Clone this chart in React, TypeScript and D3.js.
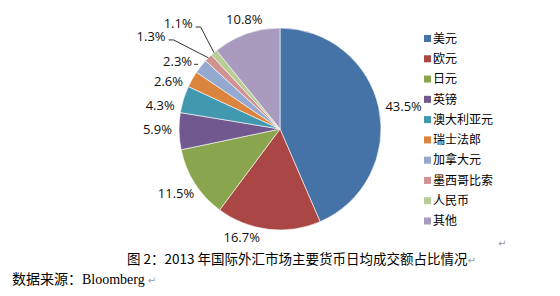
import React from "react";
import * as d3 from "d3";

const categories = ["美元", "欧元", "日元", "英镑", "澳大利亚元", "瑞士法郎", "加拿大元", "墨西哥比索", "人民币", "其他"];
const values = [43.5, 16.7, 11.5, 5.9, 4.3, 2.6, 2.3, 1.3, 1.1, 10.8];
const valueLabels = ["43.5%", "16.7%", "11.5%", "5.9%", "4.3%", "2.6%", "2.3%", "1.3%", "1.1%", "10.8%"];
const colors = ["#4572A7", "#AA4643", "#89A54E", "#71588F", "#4198AF", "#DB843D", "#93A9CF", "#D19392", "#B9CD96", "#A99BBD"];

const caption = "图 2：2013 年国际外汇市场主要货币日均成交额占比情况";
const sourceCn = "数据来源：";
const sourceEn = "Bloomberg";

// layout: label angle nudges (deg), extra radial distance, leader style
const labelLayout = [
  { da: 0, dr: 0, mode: "box" },
  { da: 11, dr: 0, mode: "box" },
  { da: -2, dr: 0, mode: "box" },
  { da: 1, dr: 0, mode: "box" },
  { da: -5, dr: 0, mode: "box" },
  { da: -5, dr: 0, mode: "box" },
  { da: -3, dr: 3, mode: "short" },
  { da: -9, dr: 159, mode: "polar" },
  { da: -3, dr: 147, mode: "polar" },
  { da: 3, dr: 0, mode: "box" },
];

const W = 560;
const H = 296;
const cx = 280;
const cy = 129;
const R = 101;
const labelFont = 13;

function textWidth(s: string) {
  let w = 0;
  for (const ch of s) {
    if (ch === ".") w += 3.5;
    else if (ch === "%") w += 10.7;
    else w += 7.44;
  }
  return w;
}

export default function App() {
  const pie = d3.pie<number>().sort(null).value((d) => d);
  const arcs = pie(values);
  const arcGen = d3.arc<d3.PieArcDatum<number>>().innerRadius(0).outerRadius(R);

  const legendY = d3.scaleLinear().domain([0, categories.length - 1]).range([38.5, 221]);

  return (
    <svg width={W} height={H} style={{ position: "absolute", left: 0, top: 0, background: "#fff" }}>
      <g transform={`translate(${cx},${cy})`}>
        {arcs.map((a, i) => (
          <path key={i} d={arcGen(a) || ""} fill={colors[i]} stroke="#fff" strokeWidth={0.6} />
        ))}
      </g>
      {arcs.map((a, i) => {
        const lay = labelLayout[i];
        const mid = (a.startAngle + a.endAngle) / 2;
        const ang = mid + (lay.da * Math.PI) / 180;
        const ux = Math.sin(ang);
        const uy = -Math.cos(ang);
        const w = textWidth(valueLabels[i]);
        const h = 12;
        let lx: number, ly: number;
        if (lay.mode === "polar") {
          lx = cx + ux * lay.dr;
          ly = cy + uy * lay.dr;
        } else {
          const rr = R + 7 + lay.dr;
          lx = cx + ux * rr + (ux * w) / 2;
          ly = cy + uy * rr + (uy * h) / 2;
        }
        let leader: React.ReactNode = null;
        if (lay.mode === "polar") {
          const px = cx + Math.sin(mid) * R;
          const py = cy - Math.cos(mid) * R;
          const sx = lx + w / 2 + 3;
          const sy = ly + 4;
          leader = (
            <polyline
              points={`${sx},${sy} ${sx + 5},${sy} ${px},${py}`}
              fill="none"
              stroke="#000"
              strokeWidth={0.8}
            />
          );
        } else if (lay.mode === "short") {
          const sx = lx + w / 2 + 2;
          const sy = ly + 3;
          leader = <line x1={sx} y1={sy} x2={sx + 4} y2={sy} stroke="#000" strokeWidth={0.8} />;
        }
        return (
          <g key={`l${i}`}>
            {leader}
            <text
              x={lx}
              y={ly}
              dy="0.36em"
              textAnchor="middle"
              fontFamily="'Open Sans', 'Noto Sans', sans-serif"
              fontSize={labelFont}
              fill="#111"
            >
              {valueLabels[i]}
            </text>
          </g>
        );
      })}
      <g>
        {categories.map((c, i) => (
          <g key={c} transform={`translate(424,${legendY(i)})`}>
            <rect x={0} y={-3.5} width={7} height={7} fill={colors[i]} />
            <text x={9} y={0} dy="0.36em" fontFamily="'Noto Sans CJK SC', sans-serif" fontSize={12} fill="#000">
              {c}
            </text>
          </g>
        ))}
      </g>
      <text x={127} y={264} fontFamily="'Noto Sans CJK SC', sans-serif" fontSize={13.5} fill="#000">
        {caption}
        <tspan fill="#9a9a9a" fontFamily="'DejaVu Sans', sans-serif" fontSize={10}>↵</tspan>
      </text>
      <text x={498} y={247} fill="#9a9a9a" fontFamily="'DejaVu Sans', sans-serif" fontSize={10}>↵</text>
      <text x={12} y={284} fontSize={14} fill="#000">
        <tspan fontFamily="'Noto Sans CJK SC', sans-serif">{sourceCn}</tspan>
        <tspan fontFamily="'Liberation Serif', serif">{sourceEn}</tspan>
        <tspan fill="#9a9a9a" fontFamily="'DejaVu Sans', sans-serif" fontSize={10} dx={3}>↵</tspan>
      </text>
    </svg>
  );
}
